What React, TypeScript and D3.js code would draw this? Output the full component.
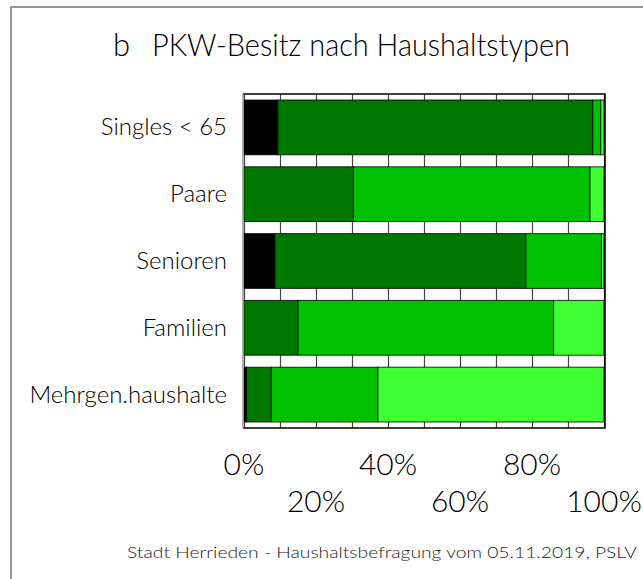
import React, { useRef, useEffect } from "react";
import * as d3 from "d3";

// Haushaltstypen und Anteile (in %) je Anzahl PKW
const categories = ["Singles < 65", "Paare", "Senioren", "Familien", "Mehrgen.haushalte"];
const keinPkw = [9.4, 0, 8.6, 0, 0.7];
const einPkw = [87.5, 30.4, 69.7, 15.0, 6.9];
const zweiPkw = [2.2, 65.7, 21.0, 71.0, 29.6];
const dreiPlusPkw = [0.9, 3.9, 0.7, 14.0, 62.8];
const seriesKeys = ["kein", "eins", "zwei", "drei"];
const seriesColors = ["#000000", "#007700", "#00c200", "#40ff33"];
const tickValues = [0, 20, 40, 60, 80, 100];
const gridValues = d3.range(0, 101, 10);

const FONT = "Lato, 'Open Sans', sans-serif";

const Chart = () => {
  const svgRef = useRef(null);

  useEffect(() => {
    const width = 643;
    const height = 579;
    const plot = { left: 244, right: 604, top: 94, bottom: 428 };

    const svg = d3.select(svgRef.current).attr("width", width).attr("height", height).html("");

    svg.append("rect").attr("width", width).attr("height", height).attr("fill", "#fff");

    // Rahmen
    svg
      .append("rect")
      .attr("x", 11)
      .attr("y", 7)
      .attr("width", width + 20)
      .attr("height", height + 20)
      .attr("fill", "none")
      .attr("stroke", "#777")
      .attr("stroke-width", 1.5);

    const rows = categories.map((c, i) => ({
      cat: c,
      kein: keinPkw[i],
      eins: einPkw[i],
      zwei: zweiPkw[i],
      drei: dreiPlusPkw[i],
    }));

    const stacked = d3.stack().keys(seriesKeys)(rows);

    const x = d3.scaleLinear().domain([0, 100]).range([plot.left, plot.right]);
    const y = d3
      .scaleBand()
      .domain(categories)
      .range([plot.top, plot.bottom])
      .paddingInner(0.18)
      .paddingOuter(0.09);

    // Gitterlinien
    svg
      .append("g")
      .selectAll("line")
      .data(gridValues)
      .join("line")
      .attr("x1", (d) => Math.round(x(d)) + 0.5)
      .attr("x2", (d) => Math.round(x(d)) + 0.5)
      .attr("y1", plot.top)
      .attr("y2", plot.bottom)
      .attr("stroke", "#444")
      .attr("stroke-width", 1.2);

    // Balken
    svg
      .append("g")
      .selectAll("g")
      .data(stacked)
      .join("g")
      .attr("fill", (d, i) => seriesColors[i])
      .selectAll("rect")
      .data((d) => d.filter((s) => s[1] - s[0] > 0))
      .join("rect")
      .attr("x", (d) => x(d[0]))
      .attr("y", (d) => y(d.data.cat))
      .attr("width", (d) => x(d[1]) - x(d[0]))
      .attr("height", y.bandwidth())
      .attr("stroke", "#000")
      .attr("stroke-opacity", 0.8)
      .attr("stroke-width", 1);

    // Achsenrahmen
    svg
      .append("path")
      .attr("d", `M${plot.left - 1},${plot.top}H${plot.right + 1}V${plot.bottom}H${plot.left - 1}`)
      .attr("fill", "none")
      .attr("stroke", "#000")
      .attr("stroke-width", 1.5);
    svg
      .append("line")
      .attr("x1", plot.left - 1)
      .attr("x2", plot.left - 1)
      .attr("y1", plot.top)
      .attr("y2", plot.bottom)
      .attr("stroke", "#999")
      .attr("stroke-width", 1.5);

    // Kategorien
    svg
      .append("g")
      .selectAll("text")
      .data(categories)
      .join("text")
      .attr("x", 227)
      .attr("y", (d) => y(d) + y.bandwidth() / 2 + 8)
      .attr("text-anchor", "end")
      .attr("font-family", FONT)
      .attr("font-weight", 300)
      .attr("font-size", 24)
      .attr("fill", "#000")
      .text((d) => d);

    // Prozentachse, zweizeilig
    svg
      .append("g")
      .selectAll("text")
      .data(tickValues)
      .join("text")
      .attr("x", (d) => x(d))
      .attr("y", (d, i) => (i % 2 === 0 ? 475 : 512))
      .attr("text-anchor", "middle")
      .attr("font-family", FONT)
      .attr("font-weight", 300)
      .attr("font-size", 30)
      .attr("fill", "#000")
      .text((d) => `${d}%`);

    // Titel
    svg
      .append("text")
      .attr("x", 113)
      .attr("y", 56)
      .attr("font-family", FONT)
      .attr("font-weight", 300)
      .attr("font-size", 31)
      .attr("fill", "#000")
      .text("b");
    svg
      .append("text")
      .attr("x", 152)
      .attr("y", 56)
      .attr("font-family", FONT)
      .attr("font-weight", 300)
      .attr("font-size", 31)
      .attr("fill", "#000")
      .attr("textLength", 418)
      .attr("lengthAdjust", "spacingAndGlyphs")
      .text("PKW-Besitz nach Haushaltstypen");

    // Quelle
    svg
      .append("text")
      .attr("x", 127)
      .attr("y", 558)
      .attr("font-family", FONT)
      .attr("font-weight", 300)
      .attr("font-size", 16.5)
      .attr("fill", "#222")
      .attr("textLength", 510)
      .attr("lengthAdjust", "spacingAndGlyphs")
      .text("Stadt Herrieden - Haushaltsbefragung vom 05.11.2019, PSLV");
  }, []);

  return <svg ref={svgRef} style={{ position: "absolute", left: 0, top: 0, display: "block" }} />;
};

export default function App() {
  return <Chart />;
}
